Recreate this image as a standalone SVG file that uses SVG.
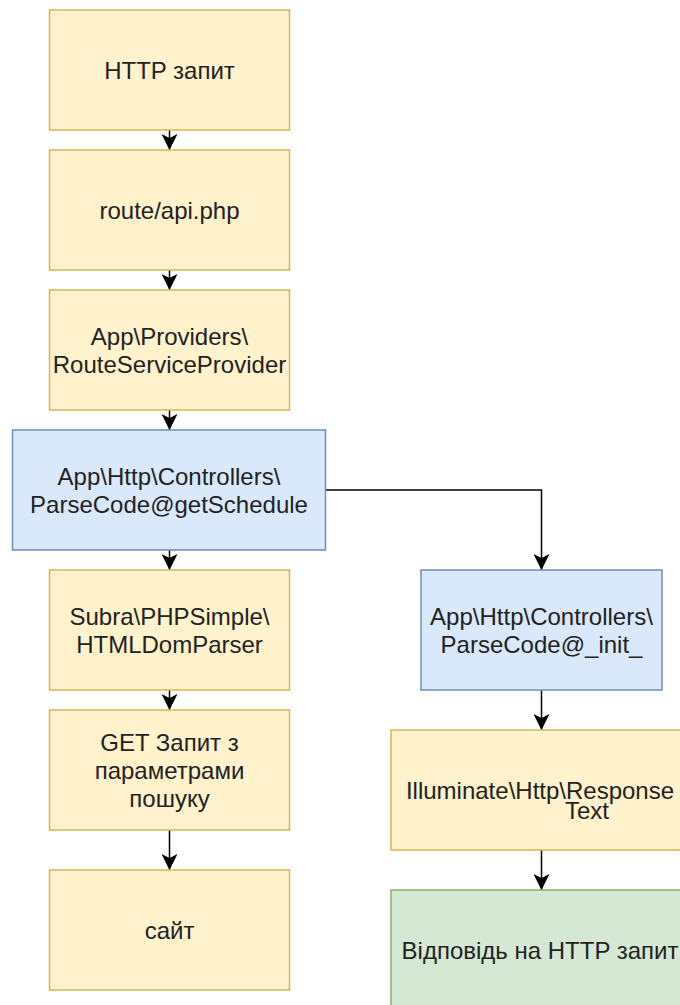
<svg xmlns="http://www.w3.org/2000/svg" width="680" height="1005" viewBox="0 0 680 1005">
  <style>
    .box rect { stroke-width: 1.5; }
    .yellow rect { fill: #fff2cc; stroke: #d6b656; }
    .blue rect { fill: #dae8fc; stroke: #6c8ebf; }
    .green rect { fill: #d5e8d4; stroke: #82b366; }
    text { font-family: "Liberation Sans", Arial, Helvetica, sans-serif; font-size: 24px; fill: #222; text-anchor: middle; }
    .edge { fill: none; stroke: #000; stroke-width: 1.5; }
  </style>
  <defs>
    <marker id="arrow" markerUnits="userSpaceOnUse" markerWidth="16" markerHeight="16" viewBox="0 0 16 16" refX="16" refY="8" orient="auto">
      <path d="M0,0 L16,8 L0,16 L4,8 Z" fill="#000"/>
    </marker>
  </defs>

  <rect width="680" height="1005" fill="#ffffff"/>

  <!-- connectors -->
  <g id="edges">
    <path class="edge" d="M169.5,130 V150" marker-end="url(#arrow)"/>
    <path class="edge" d="M169.5,270 V290" marker-end="url(#arrow)"/>
    <path class="edge" d="M169.5,410 V430" marker-end="url(#arrow)"/>
    <path class="edge" d="M169.5,550 V570" marker-end="url(#arrow)"/>
    <path class="edge" d="M169.5,690 V710" marker-end="url(#arrow)"/>
    <path class="edge" d="M169.5,830 V870" marker-end="url(#arrow)"/>
    <path class="edge" d="M325.5,490 H541.5 V570" marker-end="url(#arrow)"/>
    <path class="edge" d="M541.5,690 V730" marker-end="url(#arrow)"/>
    <path class="edge" d="M541.5,850 V890" marker-end="url(#arrow)"/>
  </g>

  <g id="http-request" class="box yellow">
    <rect x="49.5" y="10" width="240" height="120"/>
    <text x="169.5" y="79">HTTP запит</text>
  </g>

  <g id="route-api" class="box yellow">
    <rect x="49.5" y="150" width="240" height="120"/>
    <text x="169.5" y="219">route/api.php</text>
  </g>

  <g id="route-service-provider" class="box yellow">
    <rect x="49.5" y="290" width="240" height="120"/>
    <text x="169.5" y="345">App\Providers\</text>
    <text x="169.5" y="373">RouteServiceProvider</text>
  </g>

  <g id="get-schedule" class="box blue">
    <rect x="12.5" y="430" width="313" height="120"/>
    <text x="169" y="485">App\Http\Controllers\</text>
    <text x="169" y="513">ParseCode@getSchedule</text>
  </g>

  <g id="html-dom-parser" class="box yellow">
    <rect x="49.5" y="570" width="240" height="120"/>
    <text x="169.5" y="625">Subra\PHPSimple\</text>
    <text x="169.5" y="653">HTMLDomParser</text>
  </g>

  <g id="get-request" class="box yellow">
    <rect x="49.5" y="710" width="240" height="120"/>
    <text x="169.5" y="751">GET Запит з</text>
    <text x="169.5" y="779">параметрами</text>
    <text x="169.5" y="807">пошуку</text>
  </g>

  <g id="site" class="box yellow">
    <rect x="49.5" y="870" width="240" height="120"/>
    <text x="169.5" y="939">сайт</text>
  </g>

  <g id="parse-init" class="box blue">
    <rect x="421" y="570" width="241" height="120"/>
    <text x="541.5" y="625">App\Http\Controllers\</text>
    <text x="541.5" y="653">ParseCode@_init_</text>
  </g>

  <g id="response" class="box yellow">
    <rect x="391" y="730" width="301" height="120"/>
    <text x="540" y="799">Illuminate\Http\Response</text>
    <text x="587" y="819">Text</text>
  </g>

  <g id="http-answer" class="box green">
    <rect x="391" y="890" width="301" height="120"/>
    <text x="540" y="959">Відповідь на HTTP запит</text>
  </g>
</svg>
